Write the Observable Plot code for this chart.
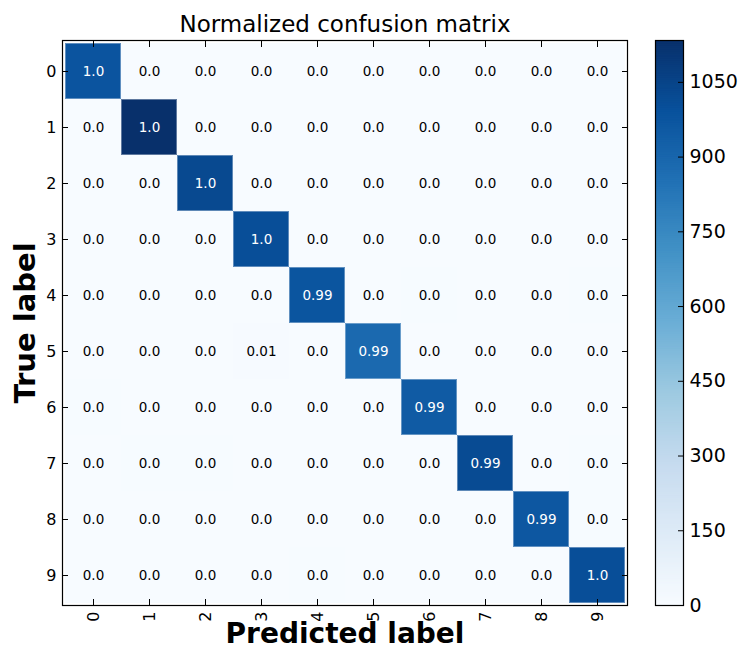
<!DOCTYPE html>
<html><head><meta charset="utf-8">
<script src="https://cdn.jsdelivr.net/npm/d3@7"></script>
<script src="https://cdn.jsdelivr.net/npm/@observablehq/plot@0.6"></script>
<style>
body{margin:0;background:#fff;font-family:"DejaVu Sans",sans-serif}
#wrap{position:relative;width:740px;height:650px;overflow:hidden}
#main{position:absolute;left:0;top:0}
#cb{position:absolute;left:640px;top:0}
</style></head><body>
<div id="wrap"><div id="main"></div><div id="cb"></div></div>
<script>
const labels = ["0","1","2","3","4","5","6","7","8","9"];
// rows = true label, columns = predicted label (counts)
const counts = [
  [977,0,0,0,0,0,1,1,1,0],
  [0,1134,0,0,0,0,1,0,0,0],
  [0,1,1027,1,0,0,0,2,1,0],
  [0,0,1,1005,0,2,0,0,1,1],
  [0,0,2,0,973,0,3,0,1,3],
  [1,0,0,5,0,884,1,0,1,0],
  [3,2,0,0,2,2,949,0,0,0],
  [0,3,3,0,0,0,0,1019,0,3],
  [0,0,2,2,0,2,0,0,965,3],
  [0,0,0,0,3,0,0,2,0,1004]
];
const colorbarTicks = [0,150,300,450,600,750,900,1050];
const blues = ["#f7fbff","#deebf7","#c6dbef","#9ecae1","#6baed6","#4292c6","#2171b5","#08519c","#08306b"];

const cmax = d3.max(counts.flat());
const fmt = v => Number.isInteger(v) ? v.toFixed(1) : String(v);
const cells = labels.flatMap((t, i) => {
  const total = d3.sum(counts[i]);
  return labels.map((p, j) => ({t, p, c: counts[i][j], label: fmt(Math.round(counts[i][j] / total * 100) / 100)}));
});
const colorOpts = {type: "linear", domain: [0, cmax], interpolate: d3.piecewise(d3.interpolateRgb, blues)};
const font = "DejaVu Sans";

const main = Plot.plot({
  width: 740, height: 650,
  marginLeft: 62, marginRight: 113, marginTop: 40, marginBottom: 45,
  style: {fontFamily: font, fontSize: "16px", color: "black", background: "white"},
  x: {domain: labels, padding: 0, label: null},
  y: {domain: labels, padding: 0, label: null},
  color: colorOpts,
  marks: [
    Plot.cell(cells, {x: "p", y: "t", fill: "c", inset: 0}),
    Plot.cell(cells.filter(d => d.c > cmax / 2), {x: "p", y: "t", fill: "none", stroke: "white", strokeOpacity: 0.35, strokeWidth: 1, inset: 0.5}),
    Plot.text(cells.filter(d => d.c > cmax / 2), {x: "p", y: "t", text: "label", fill: "white", fontSize: 13.5}),
    Plot.text(cells.filter(d => d.c <= cmax / 2), {x: "p", y: "t", text: "label", fill: "black", fontSize: 13.5}),
    Plot.frame({stroke: "black", strokeWidth: 1.2}),
    Plot.axisX({anchor: "bottom", tickSize: 0, tickPadding: 6, tickRotate: -90, fontSize: 16, label: null}),
    Plot.axisX({anchor: "bottom", tickSize: 6, dy: -6, tickFormat: () => "", label: null}),
    Plot.axisX({anchor: "top", tickSize: 6, dy: 6, tickFormat: () => "", label: null}),
    Plot.axisY({anchor: "left", tickSize: 0, tickPadding: 6, fontSize: 16, label: null}),
    Plot.axisY({anchor: "left", tickSize: 6, dx: 6, tickFormat: () => "", label: null}),
    Plot.axisY({anchor: "right", tickSize: 6, dx: -6, tickFormat: () => "", label: null}),
    Plot.text(["Normalized confusion matrix"], {frameAnchor: "top", lineAnchor: "middle", dy: -16, fontSize: 23, fill: "black"}),
    Plot.text(["Predicted label"], {frameAnchor: "bottom", lineAnchor: "middle", dy: 29, fontSize: 28, fontWeight: "bold", fill: "black"}),
    Plot.text(["True label"], {frameAnchor: "left", textAnchor: "middle", lineAnchor: "middle", dx: -37, rotate: -90, fontSize: 29, fontWeight: "bold", fill: "black"})
  ]
});
document.getElementById("main").append(main);

const step = cmax / 300;
const steps = d3.range(0, cmax, step);
const cb = Plot.plot({
  width: 100, height: 650,
  marginLeft: 15, marginRight: 57, marginTop: 40, marginBottom: 45,
  style: {fontFamily: font, fontSize: "19px", color: "black", background: "transparent"},
  x: {domain: [0, 1], axis: null},
  y: {domain: [0, cmax], label: null, axis: null},
  color: colorOpts,
  marks: [
    Plot.rect(steps, {x1: 0, x2: 1, y1: d => d, y2: d => Math.min(cmax, d + step * 1.5), fill: d => d + step / 2}),
    Plot.frame({stroke: "black", strokeWidth: 1.2}),
    Plot.axisY({anchor: "right", ticks: colorbarTicks, tickSize: 6, dx: -6, tickFormat: () => "", label: null}),
    Plot.axisY({anchor: "right", ticks: colorbarTicks, tickSize: 0, tickPadding: 6, tickFormat: d3.format("d"), fontSize: 19, label: null})
  ]
});
document.getElementById("cb").append(cb);
</script>
</body></html>
